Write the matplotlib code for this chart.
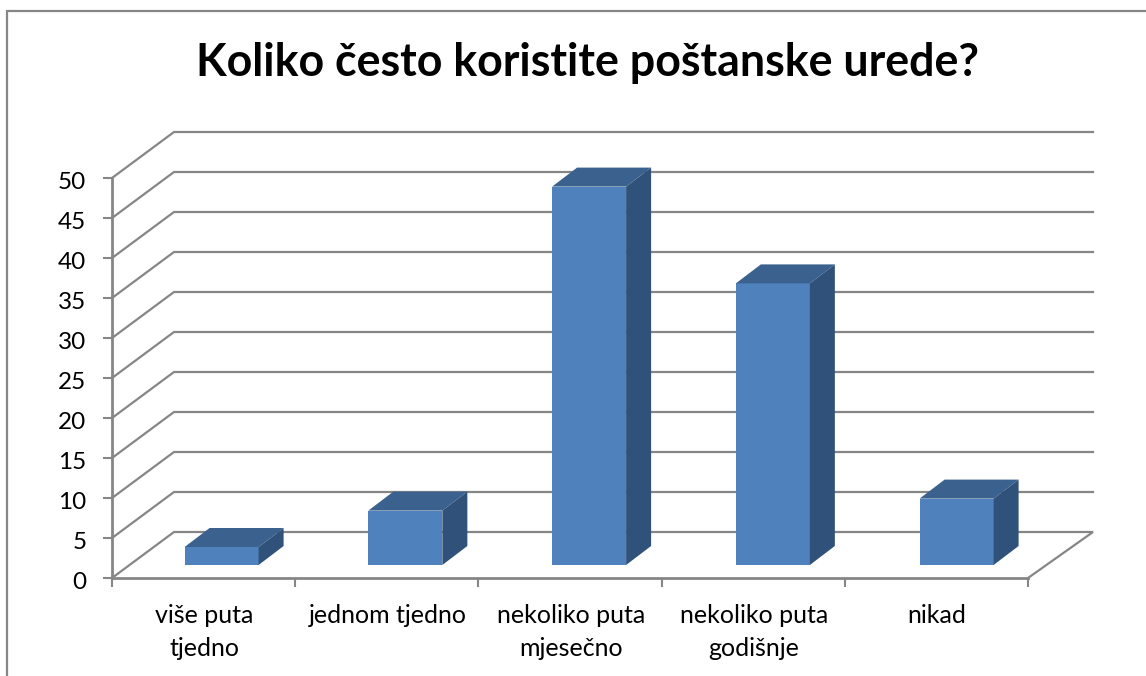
import matplotlib
matplotlib.use("Agg")
import matplotlib.pyplot as plt
from matplotlib.patches import Polygon, Rectangle
from matplotlib.transforms import ScaledTranslation

plt.rcParams['font.family'] = ['Lato', 'DejaVu Sans']

title = "Koliko često koristite poštanske urede?"
categories = ["više puta\ntjedno", "jednom tjedno", "nekoliko puta\nmjesečno",
              "nekoliko puta\ngodišnje", "nikad"]
values = [2.25, 6.8, 47.3, 35.2, 8.3]
y_ticks = list(range(0, 55, 5))

W, H = 1146, 676
L, R, T, B = 112, 1028, 178, 578
GRAY = "#868686"
FRONT, TOP, SIDE = "#4F81BD", "#3B618E", "#30527A"

fig = plt.figure(figsize=(W / 100, H / 100), dpi=100, facecolor="white")
# chart frame: left and top edges only are inside the picture
fig.add_artist(Rectangle((7 / W, -0.05), 1.2, 1.05 - 11 / H,
                         transform=fig.transFigure, fill=False,
                         edgecolor=GRAY, linewidth=1.6))
ax = fig.add_axes([L / W, 1 - B / H, (R - L) / W, (B - T) / H])
ax.set_xlim(0, len(categories))
ax.set_ylim(0, 50)
ax.patch.set_visible(False)

# pixel-to-data scales for the oblique depth
ux = (R - L) / len(categories)
uy = (B - T) / 50
wall_dx, wall_dy = 62 / ux, 46 / uy          # depth at the left of the floor
wall_dx_r = 65 / ux                          # depth at the right of the floor
bar_dx, bar_dy = 25 / ux, 19 / uy            # depth of a bar
off_dx, off_dy = 18 / ux, 13 / uy            # bar's front set back from the front edge
bar_w = 74 / ux
bar_step = 183.75 / ux

line_kw = dict(color=GRAY, linewidth=1.6, clip_on=False, zorder=1, solid_joinstyle="miter")
x_max = len(categories)
for t in y_ticks:
    if t == 0:
        ax.plot([0, wall_dx, x_max + wall_dx_r, x_max],
                [t, t + wall_dy, t + wall_dy, t], **line_kw)
    else:
        ax.plot([0, wall_dx, x_max + wall_dx_r], [t, t + wall_dy, t + wall_dy], **line_kw)

xs = [0.5 + off_dx + i * bar_step for i in range(len(categories))]
ax.bar(xs, values, width=bar_w, bottom=off_dy, color=FRONT, linewidth=0,
       zorder=3, clip_on=False)
for x, v in zip(xs, values):
    x0, x1 = x - bar_w / 2, x + bar_w / 2
    y0, y1 = off_dy, off_dy + v
    ax.add_patch(Polygon([(x0, y1), (x1, y1), (x1 + bar_dx, y1 + bar_dy), (x0 + bar_dx, y1 + bar_dy)],
                         closed=True, facecolor=TOP, linewidth=0, zorder=3, clip_on=False))
    ax.add_patch(Polygon([(x1, y0), (x1 + bar_dx, y0 + bar_dy), (x1 + bar_dx, y1 + bar_dy), (x1, y1)],
                         closed=True, facecolor=SIDE, linewidth=0, zorder=3, clip_on=False))

for s in ("top", "right"):
    ax.spines[s].set_visible(False)
for s in ("left", "bottom"):
    ax.spines[s].set_color(GRAY)
    ax.spines[s].set_linewidth(2)
    ax.spines[s].set_zorder(2)

ax.set_yticks(y_ticks)
ax.set_xticks(range(len(categories) + 1))
ax.set_xticklabels([])
ax.tick_params(axis="y", length=6.5, width=1.5, color=GRAY, pad=12, labelsize=17.5, labelcolor="black")
ax.tick_params(axis="x", length=6.5, width=1.5, color=GRAY)
shift = ScaledTranslation(0, -1.5 / 72, fig.dpi_scale_trans)
for lab in ax.get_yticklabels():
    lab.set_transform(lab.get_transform() + shift)

for i, c in enumerate(categories):
    ax.annotate(c, xy=(i + 0.5, 0), xycoords="data", xytext=(0.5, -19), textcoords="offset points",
                ha="center", va="top", fontsize=18, color="black", linespacing=1.48,
                annotation_clip=False)

fig.text(587.5 / W, 1 - 63 / H, title, ha="center", va="center",
         fontsize=32.2, fontweight="bold", color="black")

fig.savefig("out.png", dpi=100, facecolor="white")
